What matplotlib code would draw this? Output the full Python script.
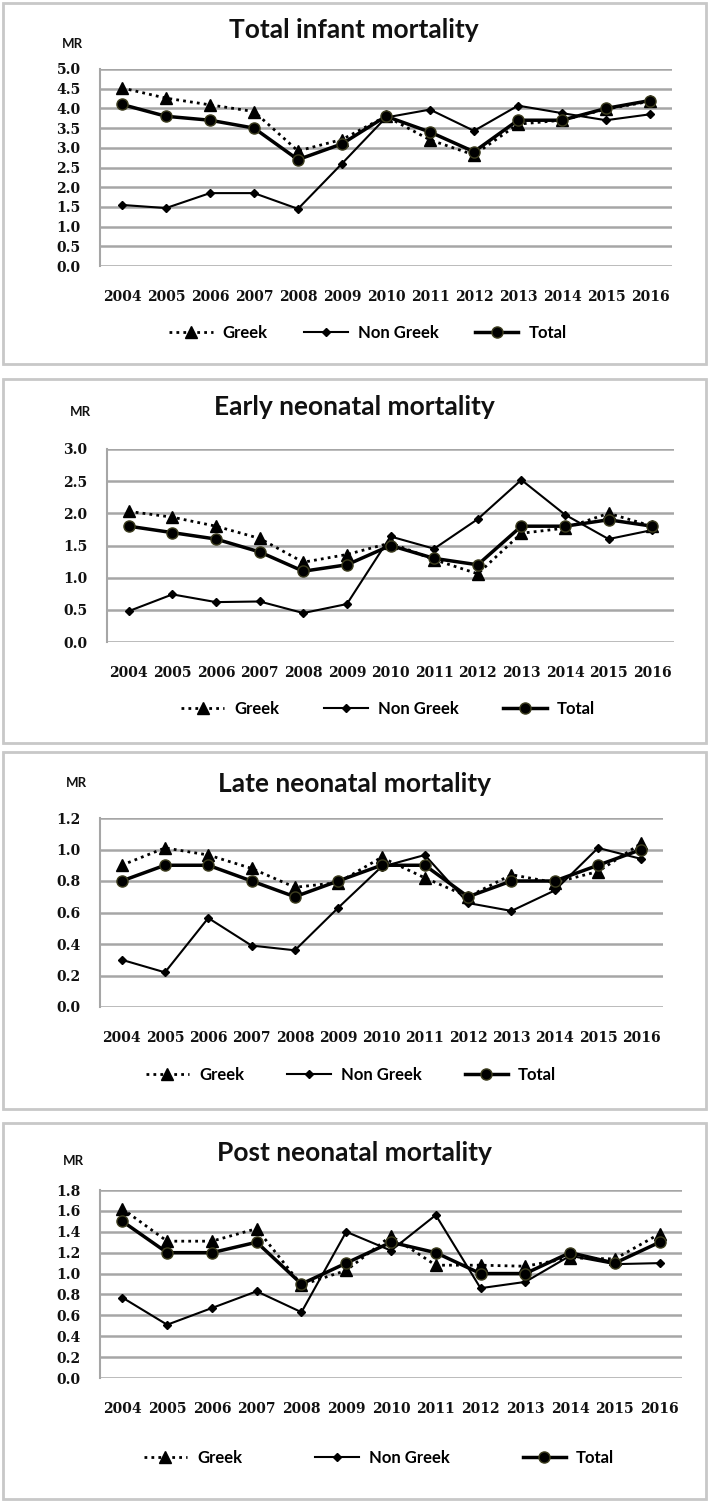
import matplotlib.pyplot as plt
from matplotlib.patches import Rectangle
from matplotlib.ticker import FormatStrFormatter

years = [str(y) for y in range(2004, 2017)]

# Total infant mortality
total_inf_greek = [4.52, 4.26, 4.09, 3.92, 2.92, 3.21, 3.80, 3.20, 2.82, 3.60, 3.70, 3.98, 4.18]
total_inf_nongreek = [1.55, 1.47, 1.85, 1.85, 1.45, 2.60, 3.77, 3.97, 3.43, 4.07, 3.88, 3.70, 3.85]
total_inf_total = [4.1, 3.8, 3.7, 3.5, 2.7, 3.1, 3.8, 3.4, 2.9, 3.7, 3.7, 4.0, 4.2]

# Early neonatal mortality
early_greek = [2.03, 1.94, 1.80, 1.61, 1.24, 1.36, 1.54, 1.28, 1.06, 1.69, 1.77, 2.00, 1.80]
early_nongreek = [0.48, 0.74, 0.62, 0.63, 0.45, 0.59, 1.64, 1.45, 1.91, 2.52, 1.98, 1.60, 1.74]
early_total = [1.8, 1.7, 1.6, 1.4, 1.1, 1.2, 1.5, 1.3, 1.2, 1.8, 1.8, 1.9, 1.8]

# Late neonatal mortality
late_greek = [0.90, 1.01, 0.965, 0.88, 0.76, 0.79, 0.95, 0.82, 0.70, 0.84, 0.79, 0.86, 1.04]
late_nongreek = [0.30, 0.22, 0.565, 0.39, 0.36, 0.63, 0.89, 0.965, 0.66, 0.61, 0.74, 1.01, 0.94]
late_total = [0.8, 0.9, 0.9, 0.8, 0.7, 0.8, 0.9, 0.9, 0.7, 0.8, 0.8, 0.9, 1.0]

# Post neonatal mortality
post_greek = [1.62, 1.31, 1.31, 1.43, 0.89, 1.03, 1.36, 1.08, 1.08, 1.07, 1.15, 1.14, 1.38]
post_nongreek = [0.77, 0.51, 0.67, 0.83, 0.63, 1.40, 1.22, 1.56, 0.86, 0.92, 1.17, 1.09, 1.10]
post_total = [1.5, 1.2, 1.2, 1.3, 0.9, 1.1, 1.3, 1.2, 1.0, 1.0, 1.2, 1.1, 1.3]

titles = ["Total infant mortality", "Early neonatal mortality",
          "Late neonatal mortality", "Post neonatal mortality"]

W, H = 709, 1502
fig = plt.figure(figsize=(W / 100, H / 100), dpi=100)
fig.patch.set_facecolor("white")


def fx(x):
    return x / W


def fy(y):
    return 1 - y / H


# layout in pixels (top-origin): box, plot area, title y, MR pos, legend centre, column spacing
panels = [
    dict(data=(total_inf_greek, total_inf_nongreek, total_inf_total), ymax=5.0, step=0.5,
         box=(3, 3, 706, 364), plot=(100, 69, 672, 266), title_y=30, mr=(72, 44),
         leg=(368, 333), colsp=2.2),
    dict(data=(early_greek, early_nongreek, early_total), ymax=3.0, step=0.5,
         box=(3, 379, 706, 743), plot=(107, 449, 674, 642), title_y=407, mr=(80, 412),
         leg=(388, 709), colsp=2.7),
    dict(data=(late_greek, late_nongreek, late_total), ymax=1.2, step=0.2,
         box=(3, 752, 706, 1109), plot=(100, 818, 663, 1007), title_y=784, mr=(76, 783),
         leg=(351, 1075), colsp=2.6),
    dict(data=(post_greek, post_nongreek, post_total), ymax=1.8, step=0.2,
         box=(3, 1123, 706, 1499), plot=(100, 1190, 682, 1378), title_y=1153, mr=(73, 1161),
         leg=(379, 1458), colsp=4.4),
]

grid_col = "#a6a6a6"
x = list(range(len(years)))

for title, p in zip(titles, panels):
    bx0, by0, bx1, by1 = p["box"]
    fig.patches.append(Rectangle((fx(bx0), fy(by1)), fx(bx1 - bx0), (by1 - by0) / H,
                                 transform=fig.transFigure, facecolor="none",
                                 edgecolor="#c8c8c8", linewidth=2, zorder=0))
    px0, py0, px1, py1 = p["plot"]
    ax = fig.add_axes([fx(px0), fy(py1), fx(px1 - px0), (py1 - py0) / H])
    ax.set_facecolor("none")

    greek, nongreek, total = p["data"]
    ax.plot(x, greek, color="black", linestyle=(0, (1, 1.5)), linewidth=2,
            marker="^", markersize=8, label="Greek", zorder=3)
    ax.plot(x, nongreek, color="black", linestyle="-", linewidth=1.5,
            marker="D", markersize=4.5, label="Non Greek", zorder=4)
    ax.plot(x, total, color="black", linestyle="-", linewidth=2.5,
            marker="o", markersize=8, markeredgecolor="#3d3d1f", label="Total", zorder=5)

    ax.set_xlim(-0.5, len(years) - 0.5)
    ax.set_ylim(0, p["ymax"])
    n = int(round(p["ymax"] / p["step"]))
    ax.set_yticks([i * p["step"] for i in range(n + 1)])
    ax.yaxis.set_major_formatter(FormatStrFormatter("%.1f"))
    ax.set_xticks(x)
    ax.set_xticklabels(years)
    ax.grid(axis="y", color=grid_col, linewidth=1.8, zorder=0)
    ax.set_axisbelow(True)
    for side in ("top", "right", "bottom"):
        ax.spines[side].set_visible(False)
    ax.spines["left"].set_color(grid_col)
    ax.spines["left"].set_linewidth(1.5)
    ax.tick_params(length=0)
    ax.tick_params(axis="y", pad=14)
    ax.tick_params(axis="x", pad=17)
    for lab in ax.get_xticklabels() + ax.get_yticklabels():
        lab.set_fontfamily("DejaVu Serif")
        lab.set_fontweight("bold")
        lab.set_fontsize(10)
        lab.set_color("#111111")

    fig.text(fx(354), fy(p["title_y"]), title, ha="center", va="center",
             fontsize=19, fontweight="bold", family="Lato", color="#111111")
    fig.text(fx(p["mr"][0]), fy(p["mr"][1]), "MR", ha="center", va="center",
             fontsize=9.5, fontweight="bold", family="Lato", color="#111111")

    lx, ly = p["leg"]
    ax.legend(loc="center", bbox_to_anchor=(fx(lx), fy(ly)), bbox_transform=fig.transFigure,
              ncol=3, frameon=False, numpoints=1, handlelength=2.6, handletextpad=0.6,
              columnspacing=p["colsp"], prop={"family": "Lato", "weight": "bold", "size": 12})

fig.savefig("out.png", dpi=100, facecolor="white")
